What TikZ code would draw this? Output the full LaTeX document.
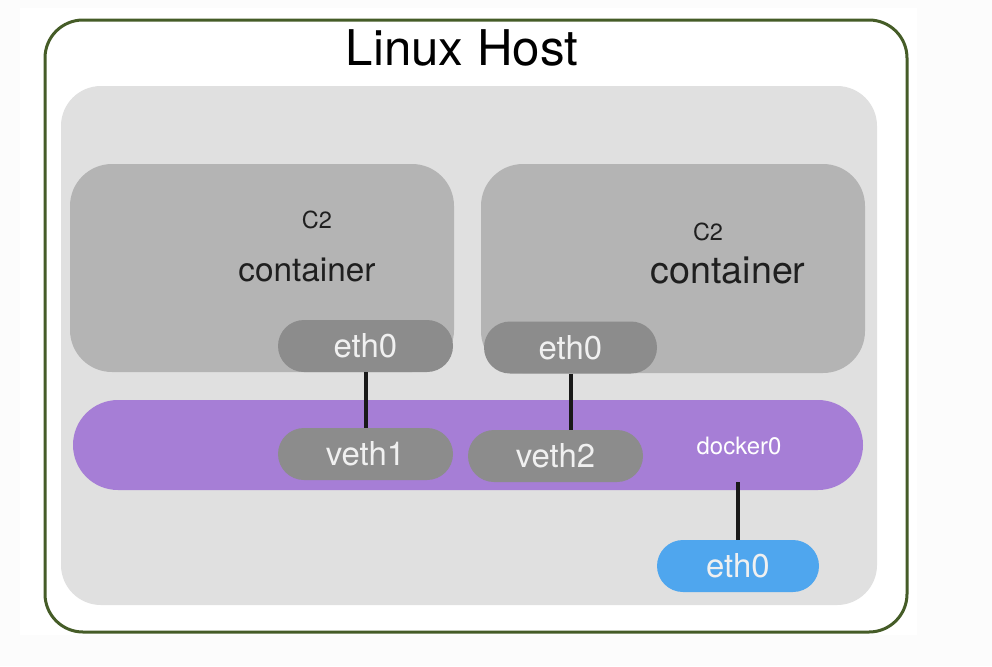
\documentclass[tikz,border=0pt]{standalone}
\usepackage{fontspec}
\setmainfont{TeX Gyre Heros}
\definecolor{hostgreen}{HTML}{455C27}
\definecolor{panelgray}{HTML}{E0E0E0}
\definecolor{boxgray}{HTML}{B4B4B4}
\definecolor{pillgray}{HTML}{8C8C8C}
\definecolor{bridgepurple}{HTML}{A67ED6}
\definecolor{hostblue}{HTML}{4FA6EE}
\definecolor{offwhite}{HTML}{FCFCFC}
\def\px{0.025cm}
\tikzset{
  pill/.style={fill=pillgray, text=white!94!black, rounded corners=26*\px,
    minimum width=175*\px, minimum height=52*\px, inner sep=0pt,
    font=\fontsize{23.4}{28}\selectfont},
  ctext/.style={text=black!88, inner sep=0pt},
  wire/.style={line width=4*\px, black!90}
}

\begin{document}
\begin{tikzpicture}[x=\px, y=-\px]
  \fill[offwhite] (0,0) rectangle (992,666);
  \fill[white] (20,8) rectangle (917,635);
  \useasboundingbox (0,0) rectangle (992,666);
  \draw[hostgreen, line width=3*\px, rounded corners=38*\px] (45,20) rectangle (907,632);
  \node[inner sep=0pt, font=\fontsize{35}{42}\selectfont] (title) at (462,48) {Linux Host};
  \fill[panelgray, rounded corners=40*\px] (61,86) rectangle (877,605);
  \fill[boxgray, rounded corners=42*\px] (70,164) rectangle (454,372);
  \fill[boxgray, rounded corners=42*\px] (481,164) rectangle (865,373);
  \node[ctext, font=\fontsize{16.7}{20}\selectfont] (nameA) at (317,220) {C2};
  \node[ctext, font=\fontsize{23.7}{28}\selectfont] (contA) at (307,270) {container};
  \node[ctext, font=\fontsize{16.7}{20}\selectfont] (nameB) at (708,232) {C2};
  \node[ctext, font=\fontsize{26.8}{32}\selectfont] (contB) at (728,270) {container};
  \node[fill=bridgepurple, rounded corners=45*\px, minimum width=790*\px, minimum height=90*\px] (bridge) at (468,445) {};
  \node[pill] (ethA) at (365.5,346) {eth0};
  \node[pill, minimum width=173*\px] (ethB) at (570.5,347.5) {eth0};
  \node[pill] (vethA) at (365.5,454) {veth1};
  \node[pill] (vethB) at (555.5,456) {veth2};
  \node[inner sep=0pt, text=white, font=\fontsize{17}{20}\selectfont] (docker) at (739,446) {docker0};
  \node[pill, fill=hostblue, minimum width=162*\px] (ethH) at (738,566) {eth0};
  \coordinate (dockout) at (738,482);
  \draw[wire] (ethA.south) -- (vethA.north);
  \draw[wire] (ethB.south) -- (ethB.south |- vethB.north);
  \draw[wire] (dockout) -- (ethH.north);
\end{tikzpicture}
\end{document}
